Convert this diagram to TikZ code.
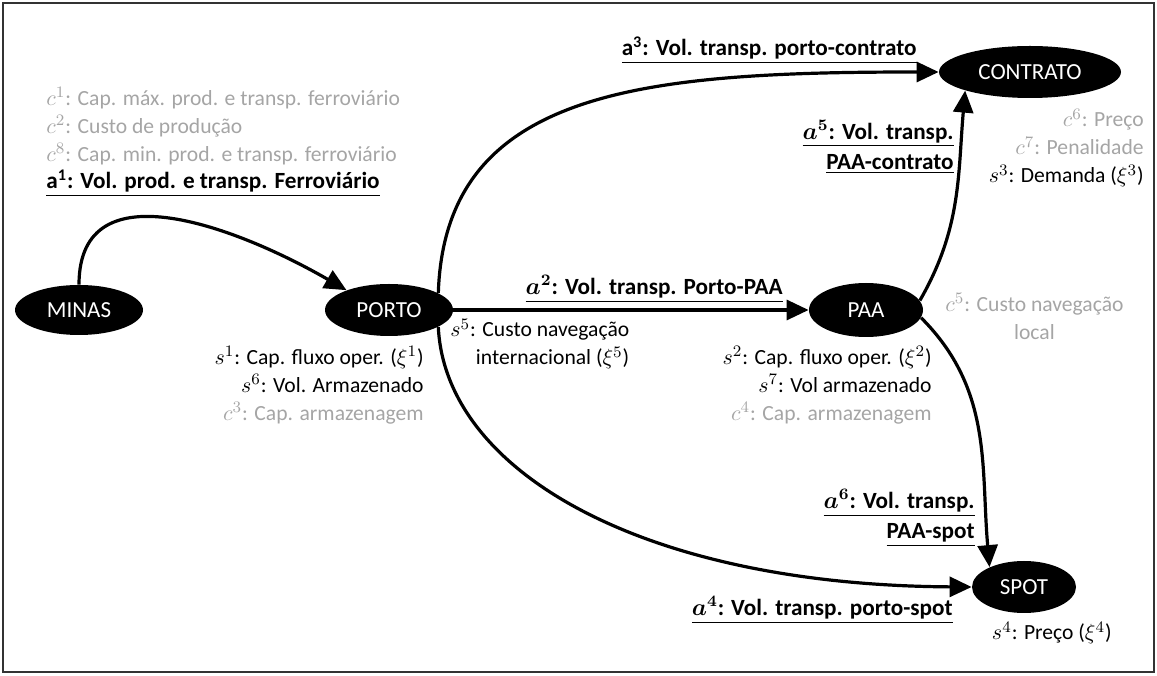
\documentclass[tikz,border=0pt]{standalone}
\usepackage{fontspec}
\setmainfont{Carlito}
\usepackage{tikz}
\usetikzlibrary{shapes,arrows.meta}
\definecolor{cgrey}{RGB}{165,165,165}
\tikzstyle{place}=[ellipse,fill=black,text=white,inner sep=0pt,font=\fontsize{11.5}{13}\selectfont]
\tikzstyle{flow}=[line width=1.6pt,-{Triangle[length=11pt,width=10pt]}]
\tikzstyle{info}=[inner sep=0pt,font=\fontsize{10.8}{14}\selectfont]
\tikzstyle{decision}=[inner sep=0pt,font=\fontsize{11.6}{15}\selectfont\bfseries\boldmath]
\newcommand{\lbl}[1]{\underline{#1}}
\newcommand{\gr}[1]{\textcolor{cgrey}{#1}}

\begin{document}
\begin{tikzpicture}[x=0.5pt,y=0.5pt]
\useasboundingbox (0,0) rectangle (1157,675);
\draw[line width=0.6pt,black!80] (3,3) rectangle (1154,672);

% places
\node[place,minimum width=64pt,minimum height=25pt] (minas) at (79,365) {MINAS};
\node[place,minimum width=64pt,minimum height=26pt] (porto) at (389,365) {PORTO};
\node[place,minimum width=57pt,minimum height=27pt] (paa) at (866,365) {PAA};
\node[place,minimum width=91pt,minimum height=26pt] (contrato) at (1030,603) {CONTRATO};
\node[place,minimum width=52pt,minimum height=26pt] (spot) at (1024,88) {SPOT};

% flows
\draw[flow] (minas.north) to[out=90,in=150,looseness=1.15] (porto.155);
\draw[flow] (porto.19) .. controls (445,585) and (640,603) .. (contrato.west);
\draw[flow] (porto) -- (paa);
\draw[flow] (porto.-19) .. controls (445,205) and (640,90) .. (spot.west);
\draw[flow] (paa.10) to[out=60,in=-95] (contrato.196);
\draw[flow] (paa.-8) to[out=-45,in=95] (spot.150);

% data
\node[info,anchor=west,align=left,text=cgrey] (minasinfo) at (46,549) {$c^1$: Cap. máx. prod. e transp. ferroviário\\ $c^2$: Custo de produção\\ $c^8$: Cap. min. prod. e transp. ferroviário};
\node[decision,anchor=west] (a1) at (46,492) {\lbl{a\textsuperscript{1}: Vol. prod. e transp. Ferroviário}};
\node[info,anchor=east,align=right] (portoinfo) at (424,290) {$s^1$: Cap. fluxo oper. ($\xi^1$)\\ $s^6$: Vol. Armazenado\\ \gr{$c^3$: Cap. armazenagem}};
\node[info,anchor=west,align=right] (navinfo) at (450,331) {$s^5$: Custo navegação\\ internacional ($\xi^5$)};
\node[info,anchor=east,align=right] (paainfo) at (932,290) {$s^2$: Cap. fluxo oper. ($\xi^2$)\\ $s^7$: Vol armazenado\\ \gr{$c^4$: Cap. armazenagem}};
\node[info,anchor=west,align=center,text=cgrey] (localinfo) at (945,359) {$c^5$: Custo navegação\\ local};
\node[info,anchor=east,align=right] (contratoinfo) at (1144,527) {\gr{$c^6$: Preço}\\ \gr{$c^7$: Penalidade}\\ $s^3$: Demanda ($\xi^3$)};
\node[info,anchor=east] (spotinfo) at (1112,42) {$s^4$: Preço ($\xi^4$)};

% decisions
\node[decision,anchor=east] (a2) at (783,386) {\lbl{$a^2$: Vol. transp. Porto-PAA}};
\node[decision,anchor=east] (a3) at (917,625) {\lbl{a\textsuperscript{3}: Vol. transp. porto-contrato}};
\node[decision,anchor=east,align=right] (a5) at (954,528) {\lbl{$a^5$: Vol. transp.}\\ \lbl{PAA-contrato}};
\node[decision,anchor=east,align=right] (a6) at (975,157) {\lbl{$a^6$: Vol. transp.}\\ \lbl{PAA-spot}};
\node[decision,anchor=east] (a4) at (953,65) {\lbl{$a^4$: Vol. transp. porto-spot}};
\end{tikzpicture}
\end{document}
